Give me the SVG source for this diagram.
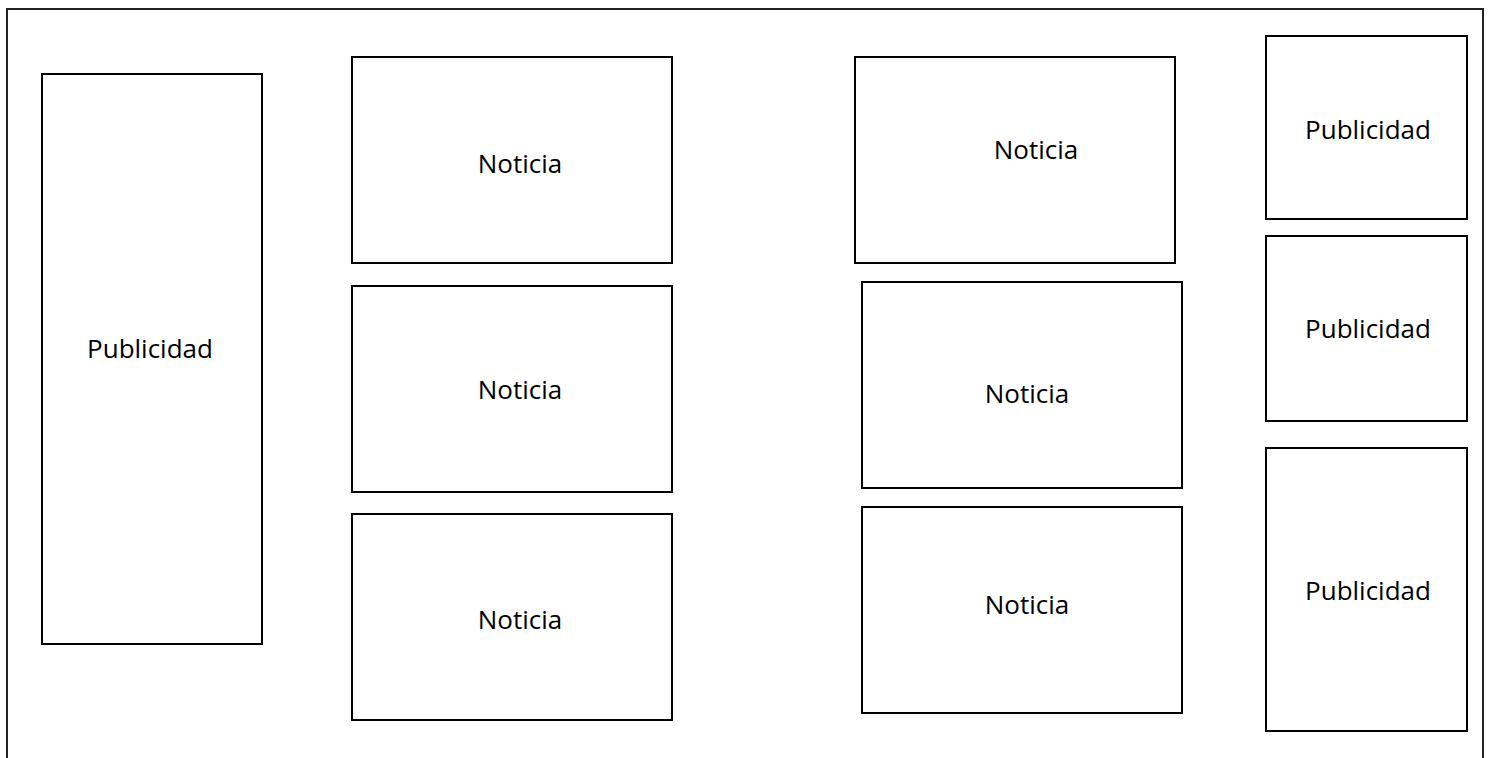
<svg xmlns="http://www.w3.org/2000/svg" width="1497" height="758" viewBox="0 0 1497 758">
<style>
.box{fill:#fff;stroke:#000;stroke-width:2}
.frame{fill:none;stroke:#222;stroke-width:2}
.lbl{font-family:"Open Sans","Liberation Sans",sans-serif;font-size:26px;fill:#000;text-anchor:middle}
</style>
<rect width="1497" height="758" fill="#fff"/>
<g id="frame"><path class="frame" d="M7 770 V9 H1483 V770"/></g>
<g id="pub-left"><rect class="box" x="42" y="74" width="220" height="570"/><text class="lbl" x="150" y="358">Publicidad</text></g>
<g id="noticia-1"><rect class="box" x="352" y="57" width="320" height="206"/><text class="lbl" x="520" y="173">Noticia</text></g>
<g id="noticia-2"><rect class="box" x="352" y="286" width="320" height="206"/><text class="lbl" x="520" y="399">Noticia</text></g>
<g id="noticia-3"><rect class="box" x="352" y="514" width="320" height="206"/><text class="lbl" x="520" y="629">Noticia</text></g>
<g id="noticia-4"><rect class="box" x="855" y="57" width="320" height="206"/><text class="lbl" x="1036" y="159">Noticia</text></g>
<g id="noticia-5"><rect class="box" x="862" y="282" width="320" height="206"/><text class="lbl" x="1027" y="403">Noticia</text></g>
<g id="noticia-6"><rect class="box" x="862" y="507" width="320" height="206"/><text class="lbl" x="1027" y="614">Noticia</text></g>
<g id="pub-1"><rect class="box" x="1266" y="36" width="201" height="183"/><text class="lbl" x="1368" y="139">Publicidad</text></g>
<g id="pub-2"><rect class="box" x="1266" y="236" width="201" height="185"/><text class="lbl" x="1368" y="338">Publicidad</text></g>
<g id="pub-3"><rect class="box" x="1266" y="448" width="201" height="283"/><text class="lbl" x="1368" y="600">Publicidad</text></g>
<g id="connectors"></g>
</svg>
